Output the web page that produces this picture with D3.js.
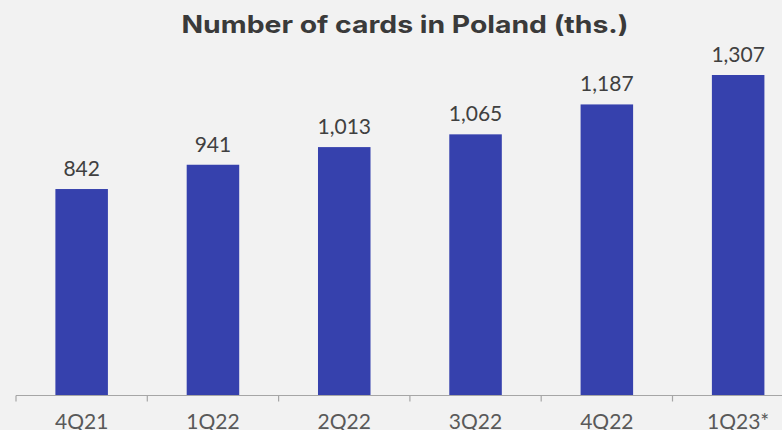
<!DOCTYPE html>
<html>
<head>
<meta charset="utf-8">
<script src="https://cdn.jsdelivr.net/npm/d3@7"></script>
<style>
  html, body { margin: 0; padding: 0; background: #f2f2f2; }
  svg { display: block; }
</style>
</head>
<body>
<script>
// Quarterly count of cards in Poland, thousands
const categories = ["4Q21", "1Q22", "2Q22", "3Q22", "4Q22", "1Q23*"];
const cards = [842, 941, 1013, 1065, 1187, 1307];
const title = "Number of cards in Poland (ths.)";

const W = 782, H = 430;
const svg = d3.select("body").append("svg")
  .attr("width", W).attr("height", H);

svg.append("rect").attr("width", W).attr("height", H).attr("fill", "#f2f2f2");

const baseY = 395.5;
const x = d3.scaleBand()
  .domain(categories)
  .range([16, 16 + 131.3 * categories.length])
  .paddingInner(0.6)
  .paddingOuter(0.3);

const y = d3.scaleLinear()
  .domain([0, 1307])
  .range([baseY, 75]);

const fmt = d3.format(",");

// bars
svg.append("g").selectAll("rect")
  .data(categories)
  .join("rect")
  .attr("x", d => x(d))
  .attr("width", x.bandwidth())
  .attr("y", (d, i) => y(cards[i]))
  .attr("height", (d, i) => baseY - y(cards[i]))
  .attr("fill", "#3641ad");

// value labels
svg.append("g").selectAll("text")
  .data(categories)
  .join("text")
  .attr("x", d => x(d) + x.bandwidth() / 2)
  .attr("y", (d, i) => y(cards[i]) - 13)
  .attr("text-anchor", "middle")
  .attr("font-family", "Lato, sans-serif")
  .attr("font-size", 21)
  .attr("fill", "#404040")
  .text((d, i) => fmt(cards[i]));

// category axis with ticks at band boundaries
const axis = svg.append("g");
const step = x.step();
const x0 = x.range()[0];
axis.append("line")
  .attr("x1", x0).attr("x2", x.range()[1])
  .attr("y1", baseY).attr("y2", baseY)
  .attr("stroke", "#a6a6a6").attr("stroke-width", 1.2);
axis.selectAll("line.tick")
  .data(d3.range(categories.length + 1))
  .join("line")
  .attr("class", "tick")
  .attr("x1", i => x0 + i * step).attr("x2", i => x0 + i * step)
  .attr("y1", baseY).attr("y2", baseY + 6)
  .attr("stroke", "#a6a6a6").attr("stroke-width", 1.2);
axis.selectAll("text")
  .data(categories)
  .join("text")
  .attr("x", d => x(d) + x.bandwidth() / 2)
  .attr("y", 429)
  .attr("text-anchor", "middle")
  .attr("font-family", "Lato, sans-serif")
  .attr("font-size", 21)
  .attr("fill", "#595959")
  .text(d => d);

// title
svg.append("text")
  .attr("x", 405)
  .attr("y", 33)
  .attr("text-anchor", "middle")
  .attr("font-family", "Inter, sans-serif")
  .attr("font-weight", "bold")
  .attr("font-size", 24)
  .attr("textLength", 447)
  .attr("lengthAdjust", "spacingAndGlyphs")
  .attr("fill", "#3a3a3a")
  .text(title);
</script>
</body>
</html>
